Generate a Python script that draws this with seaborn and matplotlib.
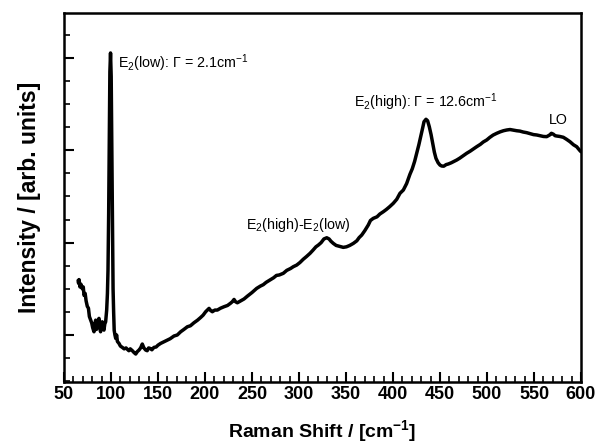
import numpy as np
import pandas as pd
import matplotlib
matplotlib.use("Agg")
import matplotlib.pyplot as plt
from matplotlib.ticker import MultipleLocator, NullFormatter
import seaborn as sns

raman_shift = [
    65, 65.5, 66, 67, 68, 69.5, 70.5, 71.3, 72.5, 73.5, 74.8, 76, 77, 78.4, 79.5, 80.5,
    81.9, 82.8, 83.7, 84.5, 85.4, 86.3, 87.2, 88, 88.9, 89.8, 90.7, 91.6, 92.5, 93.4,
    94.3, 95.4, 96.2, 96.8, 97.5, 98.2, 98.8, 99.5, 100.2, 100.8, 101.5, 102.2, 102.8,
    103.4, 104.2, 105, 106, 106.8, 108.5, 110, 112, 114, 116, 117.4, 119, 120.5, 122.7,
    124.5, 126.3, 128, 129.8, 131.5, 133.3, 135, 136.9, 138.5, 140, 141.5, 143.5, 145.7,
    148, 150, 152.8, 156, 159.9, 163, 167, 170.5, 174.1, 177.5, 181.2, 184.5, 188.3,
    192, 195.4, 198, 200.7, 202.5, 204.3, 206, 207.8, 210.5, 213.1, 216.5, 220.2, 224,
    227.3, 229, 230.9, 232.5, 234.4, 238, 241.5, 245, 250, 255, 259, 262, 265, 269.1,
    273, 276, 279, 283.3, 287, 291, 294, 297.5, 301, 304.5, 308, 311.7, 315, 318, 320.6,
    323.5, 326.5, 329.5, 332, 334, 336.5, 339.5, 343, 347.1, 350.5, 354, 357.8, 361.5,
    364, 366.7, 370, 373.7, 376, 379, 383, 386, 389.7, 393, 396.5, 400.3, 404, 407.4,
    411, 414.5, 418, 420.5, 423, 425.2, 427.5, 429.5, 431.5, 433, 435.1, 436.8, 438.6,
    440.5, 442.2, 444, 445.7, 448, 450, 451.8, 454, 456.5, 458.9, 462, 465, 467.8, 471,
    474.5, 478.4, 482, 485.5, 489, 493, 496, 499.7, 503, 506.5, 510.3, 514, 517.5, 521,
    524.5, 528, 531.6, 535, 538.5, 542.2, 546, 549.5, 552.9, 556.5, 560, 563.5, 566.5,
    568.5, 570.5, 572.5, 574.1, 577.5, 581.2, 584.5, 588.3, 592, 595.4, 598.9, 600,
]
intensity = [
    1590, 1560, 1600, 1520, 1550, 1500, 1520, 1430, 1450, 1370, 1310, 1290, 1200, 1160, 1130, 1080,
    1035, 1120, 1161, 1060, 1089, 1150, 1180, 1090, 1035, 1120, 1143, 1070, 1053, 1120,
    1143, 1270, 1450, 1700, 2300, 3200, 3850, 4054, 3800, 3100, 2200, 1500, 1250,
    1050, 1000, 963, 1000, 930, 909, 880, 866, 850, 860, 845, 830, 850, 830,
    810, 794, 820, 837, 860, 902, 860, 837, 830, 860, 855, 840, 866,
    870, 890, 909, 925, 945, 960, 989, 1000, 1035, 1060, 1089, 1100, 1133,
    1160, 1190, 1215, 1252, 1270, 1288, 1265, 1252, 1270, 1270, 1290, 1306, 1320,
    1345, 1360, 1385, 1360, 1349, 1370, 1390, 1420, 1460, 1505, 1530, 1545, 1570, 1595,
    1620, 1645, 1650, 1668, 1700, 1720, 1740, 1757, 1785, 1820, 1850, 1884, 1920, 1955, 1974,
    2000, 2040, 2053, 2040, 2015, 1992, 1970, 1960, 1949, 1955, 1970, 1992, 2020,
    2055, 2082, 2130, 2191, 2240, 2263, 2280, 2310, 2335, 2360, 2390, 2426, 2470, 2534,
    2570, 2640, 2740, 2800, 2880, 2968, 3060, 3148, 3240, 3310, 3336, 3320, 3256,
    3170, 3076, 2980, 2913, 2865, 2840, 2830, 2828, 2845, 2852, 2865, 2880, 2895, 2915,
    2940, 2968, 2990, 3015, 3039, 3065, 3090, 3112, 3140, 3165, 3184, 3200, 3212, 3220,
    3225, 3218, 3212, 3208, 3198, 3191, 3180, 3170, 3166, 3158, 3150, 3148, 3165,
    3184, 3175, 3158, 3155, 3150, 3141, 3120, 3093, 3060, 3039, 2996, 2985,
]

ann_texts = [
    "E$_2$(low): Γ = 2.1cm$^{-1}$",
    "E$_2$(high): Γ = 12.6cm$^{-1}$",
    "LO",
    "E$_2$(high)-E$_2$(low)",
]
ann_x = [107.0, 359.0, 566, 244.0]
ann_y = [3946, 3523, 3328, 2191]

x_ticks = list(range(50, 601, 50))

sns.set_theme(style="ticks")
plt.rcParams["font.family"] = ["Liberation Sans", "DejaVu Sans"]
plt.rcParams["mathtext.fontset"] = "custom"
plt.rcParams["mathtext.rm"] = "Liberation Sans"
plt.rcParams["mathtext.it"] = "Liberation Sans:italic"
plt.rcParams["mathtext.bf"] = "Liberation Sans:bold"

df = pd.DataFrame({"shift": raman_shift, "intensity": intensity})

fig = plt.figure(figsize=(5.95, 4.48), dpi=100)
ax = fig.add_axes([64 / 595, 1 - 382 / 448, (581 - 64) / 595, (382 - 13) / 448])
sns.lineplot(data=df, x="shift", y="intensity", ax=ax, color="black",
             linewidth=2.5, estimator=None, sort=False)

ax.set_xlim(50, 600)
ax.set_ylim(491, 4487)
ax.set_xticks(x_ticks)
ax.set_xticklabels([str(t) for t in x_ticks], fontweight="bold", fontsize=13)
ax.xaxis.set_minor_locator(MultipleLocator(10))
ax.yaxis.set_major_locator(MultipleLocator(1000))
ax.yaxis.set_minor_locator(MultipleLocator(250))
ax.yaxis.set_major_formatter(NullFormatter())
ax.tick_params(axis="both", which="major", direction="in", length=7, width=1.5,
               color="black", labelcolor="black", pad=3)
ax.tick_params(axis="both", which="minor", direction="in", length=4, width=1.2,
               color="black")
ax.tick_params(top=False, right=False, which="both")
for s in ax.spines.values():
    s.set_linewidth(1.8)
    s.set_color("black")

ax.set_xlabel("Raman Shift / [cm$^{\\mathbf{-1}}$]", fontsize=14, fontweight="bold",
              labelpad=11, color="black")
ax.set_ylabel("Intensity / [arb. units]", fontsize=16.5, fontweight="bold", labelpad=13,
              color="black")

for t, xx, yy in zip(ann_texts, ann_x, ann_y):
    ax.text(xx, yy, t, fontsize=10.3, ha="left", va="center", color="black")

fig.savefig("out.png", dpi=100)
